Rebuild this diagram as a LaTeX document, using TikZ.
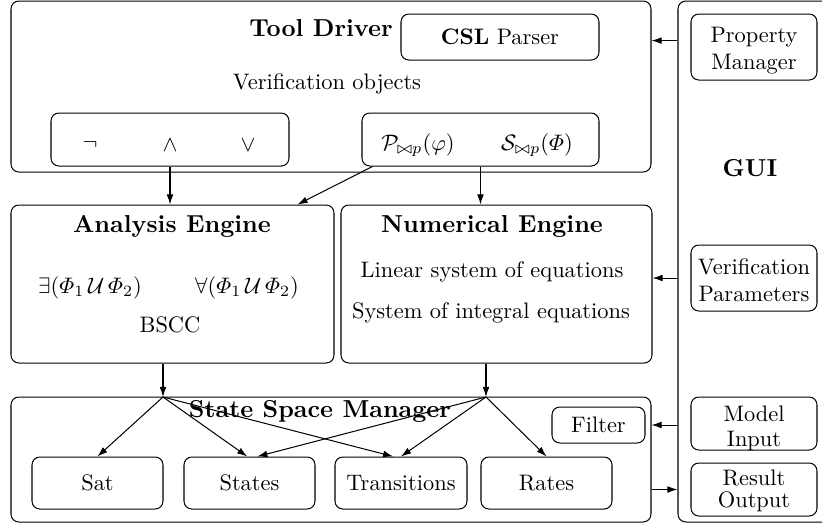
\documentclass[tikz,border=0pt]{standalone}
\usepackage{amsmath}
\usetikzlibrary{arrows.meta,fit}
\begin{document}
\begin{tikzpicture}[x=0.4464pt,y=-0.4464pt,
  box/.style={draw, rounded corners=3.5pt, inner sep=0pt, line width=0.45pt},
  arr/.style={-{Latex[length=4.5pt,width=3pt]}, line width=0.45pt},
  ttl/.style={font=\fontsize{10.95}{13}\selectfont\bfseries}]
\useasboundingbox (0,0) rectangle (822,524);
\clip (0,0) rectangle (822,524);
% big boxes
\node[box, fit={(11,1) (651,172)}] (td) {};
\node[box, fit={(678,1) (840,522)}] (gui) {};
\node[box, fit={(11,205) (334,363)}] (ae) {};
\node[box, fit={(341,205) (652,363)}] (ne) {};
\node[box, fit={(11,397) (651,522)}] (ssm) {};
% small boxes
\node[box, fit={(401,14) (599,60)}] (csl) {};
\node (cslt) at (csl.center) {\textbf{CSL} Parser};
\node[box, fit={(51,113) (289,166)}] (logic) {};
\node[box, fit={(362,113) (599,166)}] (ps) {};
\node[box, fit={(691,14) (817,80)}] (pm) {};
\node[align=center] (pmt) at ([yshift=-1.8pt]pm.center) {Property\\Manager};
\node[box, fit={(691,245) (817,311)}] (vp) {};
\node[align=center] (vpt) at ([yshift=-1pt]vp.center) {Verification\\Parameters};
\node[box, fit={(691,397) (817,450)}] (mi) {};
\node[align=center] (mit) at ([yshift=-2.2pt]mi.center) {Model\\[-1pt]Input};
\node[box, fit={(691,463) (817,516)}] (ro) {};
\node[align=center] (rot) at ([yshift=-0.5pt]ro.center) {Result\\[-2pt]Output};
\node[box, fit={(32,457) (163,509)}] (sat) {};
\node (satt) at (sat.center) {Sat};
\node[box, fit={(184,457) (315,509)}] (states) {};
\node (statest) at (states.center) {States};
\node[box, fit={(335,457) (467,509)}] (trans) {};
\node (transt) at (trans.center) {Transitions};
\node[box, fit={(481,457) (612,509)}] (rates) {};
\node (ratest) at (rates.center) {Rates};
\node[box, fit={(552,407) (645,443)}] (filt) {};
\node (filtt) at (filt.center) {Filter};
% texts
\node[ttl] (tdt) at (321,28) {Tool Driver};
\node (vo) at (327,84) {Verification objects};
\node (neg) at (90,145) {$\neg$};
\node (andn) at (170,145) {$\wedge$};
\node (orn) at (248,145) {$\vee$};
\node (pf) at (418,145) {$\mathcal{P}_{\bowtie p}(\varphi)$};
\node (sf) at (537,145) {$\mathcal{S}_{\bowtie p}(\varPhi)$};
\node[ttl] (guit) at (750,168) {GUI};
\node[ttl] (aet) at (172,226) {Analysis Engine};
\node (exn) at (90,288) {$\exists(\varPhi_1\,\mathcal{U}\,\varPhi_2)$};
\node (alln) at (247,288) {$\forall(\varPhi_1\,\mathcal{U}\,\varPhi_2)$};
\node (bscc) at (170,325) {BSCC};
\node[ttl] (net) at (492,226) {Numerical Engine};
\node (lin) at (492,272) {Linear system of equations};
\node (integ) at (491,313) {System of integral equations};
\node[ttl] (ssmt) at (320,411) {State Space Manager};
% connectors
\coordinate (fa) at (163,397);
\coordinate (fn) at (486,397);
\draw[arr] (logic.south) -- (logic.south |- ae.north);
\draw[arr] ([xshift=4.9pt]ps.south west) -- ([xshift=-16.5pt]ae.north east);
\draw[arr] (ps.south) -- (ps.south |- ne.north);
\draw[arr] (ae.south -| fa) -- (fa);
\draw[arr] (ne.south -| fn) -- (fn);
\draw[arr] (fa) -- (sat.north);
\draw[arr] (fa) -- ([xshift=-1pt]states.north);
\draw[arr] (fa) -- ([xshift=-3.5pt]trans.north);
\draw[arr] (fn) -- ([xshift=3.5pt]states.north);
\draw[arr] (fn) -- (trans.north);
\draw[arr] (fn) -- (rates.north);
\draw[arr] ([yshift=-1.6pt]gui.west |- csl.east) -- ([yshift=-1.6pt]td.east |- csl.east);
\draw[arr] (gui.west |- vp.west) -- (ne.east |- vp.west);
\draw[arr] (gui.west |- filt.east) -- (ssm.east |- filt.east);
\draw[arr] (ssm.east |- ro.west) -- (gui.west |- ro.west);
\end{tikzpicture}
\end{document}
